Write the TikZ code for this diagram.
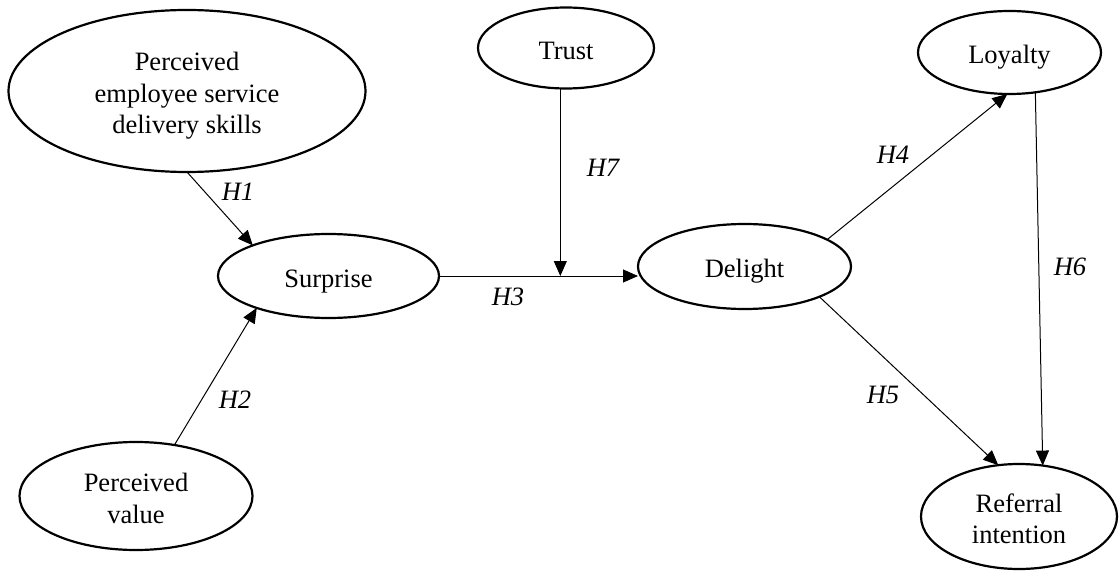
\documentclass[tikz,border=0pt]{standalone}
\usepackage{fontspec}
\setmainfont{Liberation Serif}
\usetikzlibrary{arrows.meta,shapes.geometric}
% text set a little below the middle of its ellipse
\newcommand\ctext[1]{\raisebox{-5pt}[\height][\depth]{\begin{tabular}{@{}c@{}}#1\end{tabular}}}
\begin{document}
\begin{tikzpicture}[x=1pt,y=-1pt,
        construct/.style={draw,ellipse,line width=2.2pt,inner sep=0pt,outer sep=0pt,
          font=\fontsize{26.5}{31.5}\selectfont},
        hyp/.style={inner sep=0pt,font=\fontsize{26.5}{31}\selectfont\itshape},
        link/.style={-{Triangle[length=15pt,width=13pt]},line width=1pt}]
        \useasboundingbox (0,0) rectangle (1119,572);
        % constructs
        \node[construct,minimum width=357pt,minimum height=162pt] (skills) at (187,91) {\ctext{Perceived\\employee service\\delivery skills}};
        \node[construct,minimum width=176pt,minimum height=81pt] (trust) at (566,48) {\ctext{Trust}};
        \node[construct,minimum width=183pt,minimum height=83pt] (loyalty) at (1009.5,52.5) {\ctext{Loyalty}};
        \node[construct,minimum width=221pt,minimum height=84pt] (surprise) at (328.5,276) {\ctext{Surprise}};
        \node[construct,minimum width=213pt,minimum height=85pt] (delight) at (744.5,266.5) {\ctext{Delight}};
        \node[construct,minimum width=233pt,minimum height=108pt] (value) at (136,496) {\ctext{Perceived\\value}};
        \node[construct,minimum width=196pt,minimum height=105pt] (referral) at (1019,516.5) {\ctext{Referral\\intention}};
        % hypotheses
        \draw[link] (skills.south) -- (surprise.158);
        \draw[link] (value.53) -- (surprise.204);
        \draw[link] (surprise.east) -- (surprise.east -| delight.west);
        \draw[link] (trust.-98) -- (trust.-98 |- surprise.east);
        \draw[link] (delight.18) -- (loyalty.-93);
        \draw[link] (delight.-22) -- (referral.112);
        \draw[link] (loyalty.-57) -- (referral.65);
        % labels
        \node[hyp] (h1) at (238,192) {H1};
        \node[hyp] (h2) at (235,400) {H2};
        \node[hyp] (h3) at (508,297) {H3};
        \node[hyp] (h4) at (893,155) {H4};
        \node[hyp] (h5) at (883,395) {H5};
        \node[hyp] (h6) at (1070,267) {H6};
        \node[hyp] (h7) at (603,168) {H7};
      \end{tikzpicture}
\end{document}
